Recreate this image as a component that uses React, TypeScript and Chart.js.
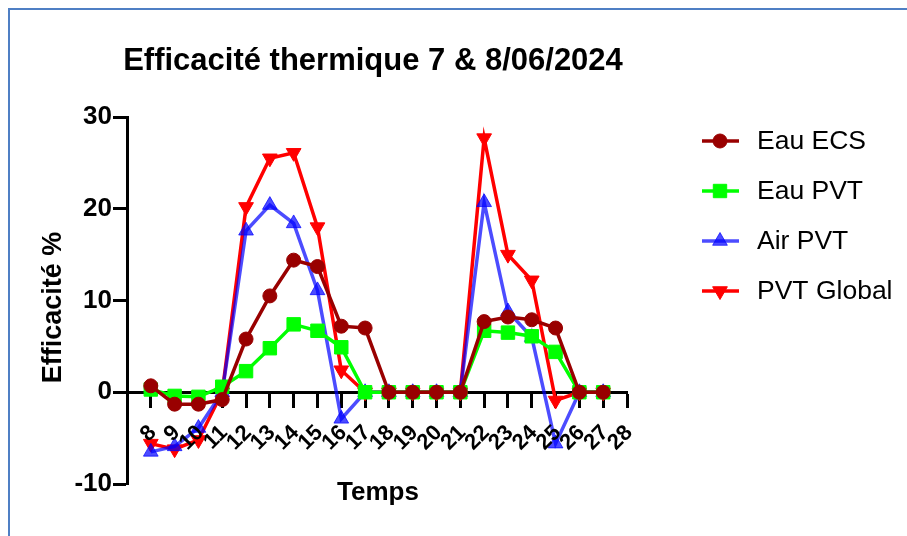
import React, { useEffect, useRef } from 'react';
import { Chart, registerables } from 'chart.js';

Chart.register(...registerables);

// ---- data ----
const hours = [8, 9, 10, 11, 12, 13, 14, 15, 16, 17, 18, 19, 20, 21, 22, 23, 24, 25, 26, 27];
const xTickLabels = ['8', '9', '10', '11', '12', '13', '14', '15', '16', '17', '18', '19', '20', '21', '22', '23', '24', '25', '26', '27', '28'];
const yTickValues = [-10, 0, 10, 20, 30];

const eauEcs = [0.7, -1.3, -1.3, -0.8, 5.8, 10.5, 14.4, 13.7, 7.2, 7.0, 0, 0, 0, 0, 7.7, 8.2, 7.9, 7.0, 0, 0];
const eauPvt = [0.3, -0.4, -0.5, 0.6, 2.3, 4.8, 7.4, 6.7, 4.9, 0, 0, 0, 0, 0, 6.7, 6.5, 6.1, 4.4, 0, 0];
const airPvt = [-6.5, -5.9, -3.9, 0, 17.6, 20.4, 18.4, 11.1, -2.9, 0, 0, 0, 0, 0, 20.7, 8.8, 6.0, -5.6, 0, 0];
const pvtGlobal = [-5.6, -6.2, -5.2, 0, 20.2, 25.5, 26.1, 18.0, 2.4, 0, 0, 0, 0, 0, 27.7, 15.0, 12.2, -0.9, 0, 0];

const seriesNames = ['Eau ECS', 'Eau PVT', 'Air PVT', 'PVT Global'];
const seriesColors = ['#990000', '#00ff00', 'rgba(0,0,255,0.7)', '#ff0000'];

const chartTitle = 'Efficacité thermique 7 & 8/06/2024';
const xAxisTitle = 'Temps';
const yAxisTitle = 'Efficacité %';

const FONT = '"Liberation Sans", Arial, Helvetica, sans-serif';

function drawMarker(ctx: CanvasRenderingContext2D, kind: string, x: number, y: number, color: string) {
  ctx.save();
  ctx.fillStyle = color;
  ctx.strokeStyle = color;
  ctx.lineWidth = 1;
  ctx.beginPath();
  if (kind === 'circle') {
    ctx.arc(x, y, 7, 0, Math.PI * 2);
  } else if (kind === 'rect') {
    ctx.rect(x - 6.7, y - 6.7, 13.4, 13.4);
  } else if (kind === 'up') {
    const r = 8.5;
    ctx.moveTo(x, y - r);
    ctx.lineTo(x + r * Math.sin((2 * Math.PI) / 3), y - r * Math.cos((2 * Math.PI) / 3));
    ctx.lineTo(x + r * Math.sin((4 * Math.PI) / 3), y - r * Math.cos((4 * Math.PI) / 3));
    ctx.closePath();
  } else {
    const r = 8.5;
    ctx.moveTo(x, y + r);
    ctx.lineTo(x + r * Math.sin((2 * Math.PI) / 3), y + r * Math.cos((2 * Math.PI) / 3));
    ctx.lineTo(x + r * Math.sin((4 * Math.PI) / 3), y + r * Math.cos((4 * Math.PI) / 3));
    ctx.closePath();
  }
  ctx.fill();
  ctx.stroke();
  ctx.restore();
}

const textPlugin = {
  id: 'prismTexts',
  afterDraw(chart: any) {
    const ctx: CanvasRenderingContext2D = chart.ctx;
    const ca = chart.chartArea;
    const xs = chart.scales.x;
    const ys = chart.scales.y;
    ctx.save();
    ctx.fillStyle = '#000';

    // title
    ctx.font = `bold 31px ${FONT}`;
    ctx.textAlign = 'center';
    ctx.textBaseline = 'alphabetic';
    ctx.fillText(chartTitle, (ca.left + ca.right) / 2 - 4, 70);

    // x tick labels (rotated)
    const y0 = ys.getPixelForValue(0);
    ctx.font = `bold 22px ${FONT}`;
    xTickLabels.forEach((lbl) => {
      const px = xs.getPixelForValue(Number(lbl));
      ctx.save();
      ctx.translate(px + 2, y0 + 37);
      ctx.rotate(-Math.PI / 4);
      ctx.textAlign = 'right';
      ctx.textBaseline = 'middle';
      ctx.fillText(lbl, 0, 0);
      ctx.restore();
    });

    // x axis title
    ctx.font = `bold 26px ${FONT}`;
    ctx.textAlign = 'center';
    ctx.textBaseline = 'middle';
    ctx.fillText(xAxisTitle, (ca.left + ca.right) / 2 + 1, ca.bottom + 9);

    // y axis title
    ctx.save();
    ctx.font = `bold 27px ${FONT}`;
    ctx.translate(54, (ca.top + ca.bottom) / 2 + 7);
    ctx.rotate(-Math.PI / 2);
    ctx.textAlign = 'center';
    ctx.textBaseline = 'middle';
    ctx.fillText(yAxisTitle, 0, 0);
    ctx.restore();

    // legend
    const kinds = ['circle', 'rect', 'up', 'down'];
    seriesNames.forEach((name, i) => {
      const yy = ca.top + 24 + i * 50;
      const color = seriesColors[i];
      ctx.save();
      ctx.strokeStyle = color;
      ctx.lineWidth = 3.5;
      ctx.beginPath();
      ctx.moveTo(ca.right + 75, yy);
      ctx.lineTo(ca.right + 112, yy);
      ctx.stroke();
      ctx.restore();
      drawMarker(ctx, kinds[i], ca.right + 93, yy, color);
      ctx.font = `26.5px ${FONT}`;
      ctx.textAlign = 'left';
      ctx.textBaseline = 'middle';
      ctx.fillStyle = '#000';
      ctx.fillText(name, ca.right + 130, yy + 1);
    });

    ctx.restore();
  },
};

export default function App() {
  const canvasRef = useRef<HTMLCanvasElement | null>(null);

  useEffect(() => {
    const canvas = canvasRef.current;
    if (!canvas) return;
    const mk = (vals: number[]) => hours.map((h, i) => ({ x: h, y: vals[i] }));
    const chart = new Chart(canvas, {
      type: 'line',
      data: {
        datasets: [
          {
            label: seriesNames[0],
            data: mk(eauEcs),
            borderColor: seriesColors[0],
            backgroundColor: seriesColors[0],
            borderWidth: 3.5,
            pointStyle: 'circle',
            pointRadius: 7,
            pointBorderWidth: 1,
          },
          {
            label: seriesNames[1],
            data: mk(eauPvt),
            borderColor: seriesColors[1],
            backgroundColor: seriesColors[1],
            borderWidth: 3.5,
            pointStyle: 'rect',
            pointRadius: 9.5,
            pointBorderWidth: 1,
          },
          {
            label: seriesNames[2],
            data: mk(airPvt),
            borderColor: seriesColors[2],
            backgroundColor: seriesColors[2],
            borderWidth: 3.5,
            pointStyle: 'triangle',
            pointRadius: 8.5,
            pointBorderWidth: 1,
          },
          {
            label: seriesNames[3],
            data: mk(pvtGlobal),
            borderColor: seriesColors[3],
            backgroundColor: seriesColors[3],
            borderWidth: 3.5,
            pointStyle: 'triangle',
            pointRotation: 180,
            pointRadius: 8.5,
            pointBorderWidth: 1,
          },
        ],
      },
      options: {
        responsive: false,
        animation: false,
        devicePixelRatio: 1,
        layout: { padding: { top: 117, bottom: 52, left: 0, right: 280 } },
        plugins: {
          legend: { display: false },
          title: { display: false },
          tooltip: { enabled: false },
        },
        scales: {
          x: {
            type: 'linear',
            min: 7,
            max: 28,
            position: { y: 0 } as any,
            ticks: { display: false, stepSize: 1 },
            grid: {
              drawOnChartArea: false,
              drawTicks: true,
              tickLength: 14,
              tickWidth: 3,
              tickColor: '#000',
            },
            border: { display: true, width: 3, color: '#000' },
          },
          y: {
            type: 'linear',
            position: 'left',
            min: -10,
            max: 30,
            afterBuildTicks: (scale: any) => {
              scale.ticks = yTickValues.map((v) => ({ value: v }));
            },
            afterFit: (scale: any) => {
              scale.width = 127;
            },
            ticks: {
              color: '#000',
              padding: 1,
              font: { family: FONT, size: 26, weight: 'bold' },
            },
            grid: {
              drawOnChartArea: false,
              drawTicks: true,
              tickLength: 14,
              tickWidth: 3,
              tickColor: '#000',
            },
            border: { display: true, width: 3, color: '#000' },
          },
        },
      },
      plugins: [textPlugin],
    });
    return () => chart.destroy();
  }, []);

  return (
    <div style={{ position: 'fixed', left: 0, top: 0, width: 907, height: 536, background: '#fff' }}>
      <div
        style={{
          position: 'absolute',
          left: 8,
          top: 8,
          right: 0,
          bottom: 0,
          borderTop: '2px solid #4f7fc4',
          borderLeft: '2px solid #4f7fc4',
        }}
      />
      <canvas ref={canvasRef} width={907} height={536} style={{ position: 'absolute', left: 0, top: 0 }} />
    </div>
  );
}
